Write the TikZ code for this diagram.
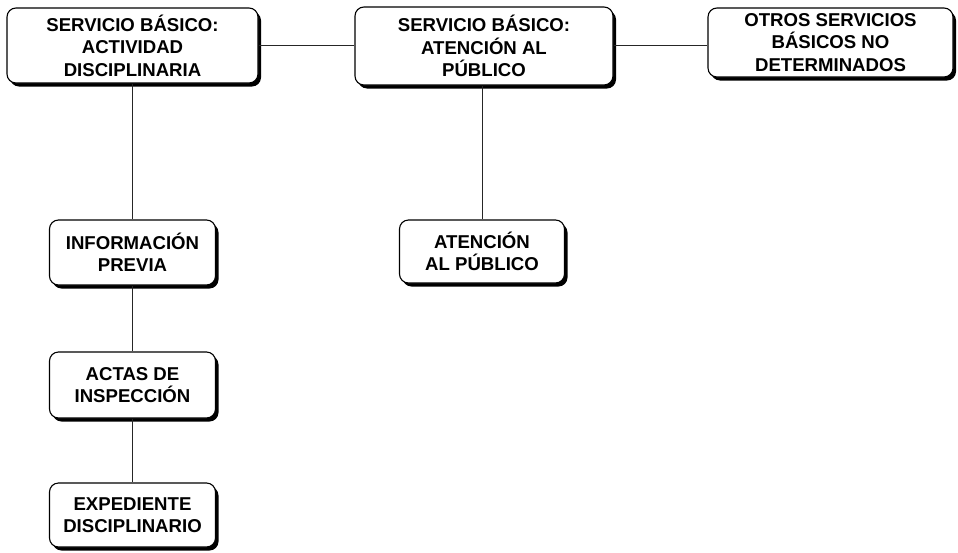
\documentclass[tikz,border=0pt]{standalone}
\usepackage{fontspec}
\setmainfont{Liberation Sans}
\usetikzlibrary{shadows}
\begin{document}
\begin{tikzpicture}[x=1pt,y=-1pt,
  box/.style={draw=black, line width=1.1pt, fill=white, rounded corners=9pt,
    align=center, inner sep=0pt,
    font=\fontsize{18.6}{22.5}\selectfont\bfseries,
    drop shadow={shadow xshift=3pt, shadow yshift=-3.5pt, fill=black, opacity=1}},
  link/.style={draw=black!85, line width=0.9pt}]
  \useasboundingbox (0,0) rectangle (958,552);

  % top row: basic services
  \node[box, minimum width=251pt, minimum height=75pt] (b1) at (132.5,45.5)
    {SERVICIO BÁSICO:\\ACTIVIDAD\\DISCIPLINARIA};
  \node[box, minimum width=258pt, minimum height=78pt] (b2) at (484,46)
    {SERVICIO BÁSICO:\\ATENCIÓN AL\\PÚBLICO};
  \node[box, minimum width=245pt, minimum height=69pt] (b3) at (830.5,42.5)
    {OTROS SERVICIOS\\BÁSICOS NO\\DETERMINADOS};

  % disciplinary activity chain
  \node[box, minimum width=166pt, minimum height=65pt] (info) at (132.5,252.5)
    {INFORMACIÓN\\PREVIA};
  \node[box, minimum width=166pt, minimum height=66pt] (actas) at (132.5,385)
    {ACTAS DE\\INSPECCIÓN};
  \node[box, minimum width=166pt, minimum height=64pt] (exp) at (132.5,515)
    {EXPEDIENTE\\DISCIPLINARIO};

  % public attention
  \node[box, minimum width=165pt, minimum height=63pt] (aten) at (482,251.5)
    {ATENCIÓN\\AL PÚBLICO};

  % connectors
  \draw[link] (b1.east |- 0,45) coordinate (l1) -- (b2.west |- l1);
  \draw[link] (b2.east |- 0,45) coordinate (l2) -- (b3.west |- l2);
  \draw[link] (b1) -- (info);
  \draw[link] (info) -- (actas);
  \draw[link] (actas) -- (exp);
  \draw[link] (b2.south -| aten) -- (aten);
\end{tikzpicture}
\end{document}
